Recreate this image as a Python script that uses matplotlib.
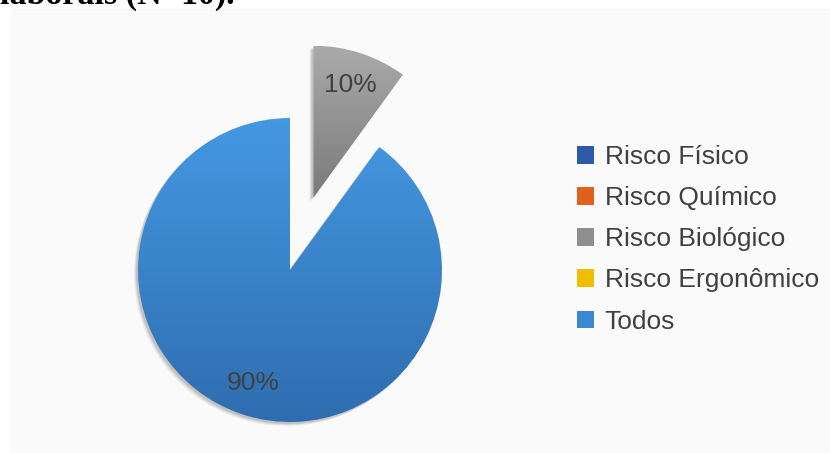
import numpy as np
import matplotlib.pyplot as plt
from matplotlib.patches import Patch, Rectangle
from matplotlib.colors import to_rgb

# data
categories = ["Risco Físico", "Risco Químico", "Risco Biológico", "Risco Ergonômico", "Todos"]
counts = [0, 0, 1, 0, 9]
explode_frac = [0, 0, 0.5, 0, 0]
legend_colors = ["#2c5aa8", "#e0601c", "#8f8f8f", "#f2bc00", "#3b88d2"]
grad_top = ["#3a6cc0", "#f07a30", "#aaaaaa", "#ffd030", "#4499e2"]
grad_bottom = ["#24509a", "#c85010", "#7a7a7a", "#e0a800", "#2f6db0"]
title_tail = "laborais (N=10)."

W, H = 830, 453
plt.rcParams['font.family'] = ['Liberation Sans', 'DejaVu Sans']

fig = plt.figure(figsize=(W / 100, H / 100), dpi=100, facecolor="white")
ax = fig.add_axes([0, 0, 1, 1])
ax.axis("off")

# light panel behind the chart
ax.add_patch(Rectangle((11, 0), W - 11, H - 9, facecolor="#fafafa", edgecolor="none", zorder=0))

# cut-off caption from the page above
ax.text(0, H - 4, title_tail, family=['Liberation Serif', 'DejaVu Serif'], fontweight="bold",
        fontsize=24.5, color="black", va="baseline", ha="left", zorder=5)


def pct_label(p):
    return f"{p:.0f}%" if p > 0 else ""


center = (290, H - 270)
radius = 152
explode = [e * radius for e in explode_frac]

# soft shadow
for k, a in [(4, 0.06), (3, 0.08), (2, 0.10)]:
    sh, _ = ax.pie(counts, startangle=90, counterclock=False, radius=radius,
                   center=(center[0] - k, center[1] - k), explode=explode,
                   colors=["#000000"] * len(counts), frame=True)
    for w in sh:
        w.set_alpha(a)
        w.set_zorder(1)

wedges, texts, autotexts = ax.pie(counts, startangle=90, counterclock=False, radius=radius,
                                  center=center, explode=explode, autopct=pct_label,
                                  pctdistance=0.78, frame=True,
                                  textprops=dict(fontsize=19, color="#404040"))

for w, v, ct, cb in zip(wedges, counts, grad_top, grad_bottom):
    w.set_zorder(2)
    if v == 0:
        w.set_visible(False)
        continue
    w.set_facecolor("none")
    w.set_edgecolor("none")
    bb = w.get_path().get_extents()
    t = np.linspace(0, 1, 256).reshape(-1, 1, 1)
    img = np.array(to_rgb(cb)) * (1 - t) + np.array(to_rgb(ct)) * t
    im = ax.imshow(img, extent=[bb.x0, bb.x1, bb.y0, bb.y1], origin="lower",
                   aspect="auto", zorder=2, interpolation="bilinear")
    im.set_clip_path(w)

for t in autotexts:
    t.set_zorder(4)

handles = [Patch(facecolor=c, edgecolor="none") for c in legend_colors]
ax.legend(handles, categories, loc="upper left", bbox_to_anchor=(577 / W, 1 - 145 / H),
          bbox_transform=fig.transFigure, frameon=False, fontsize=19, labelcolor="#404040",
          handlelength=0.65, handleheight=0.65, handletextpad=0.4, labelspacing=0.65,
          borderpad=0, borderaxespad=0)

ax.set_xlim(0, W)
ax.set_ylim(0, H)
ax.set_aspect("auto")

fig.savefig("out.png", dpi=100, facecolor="white")
